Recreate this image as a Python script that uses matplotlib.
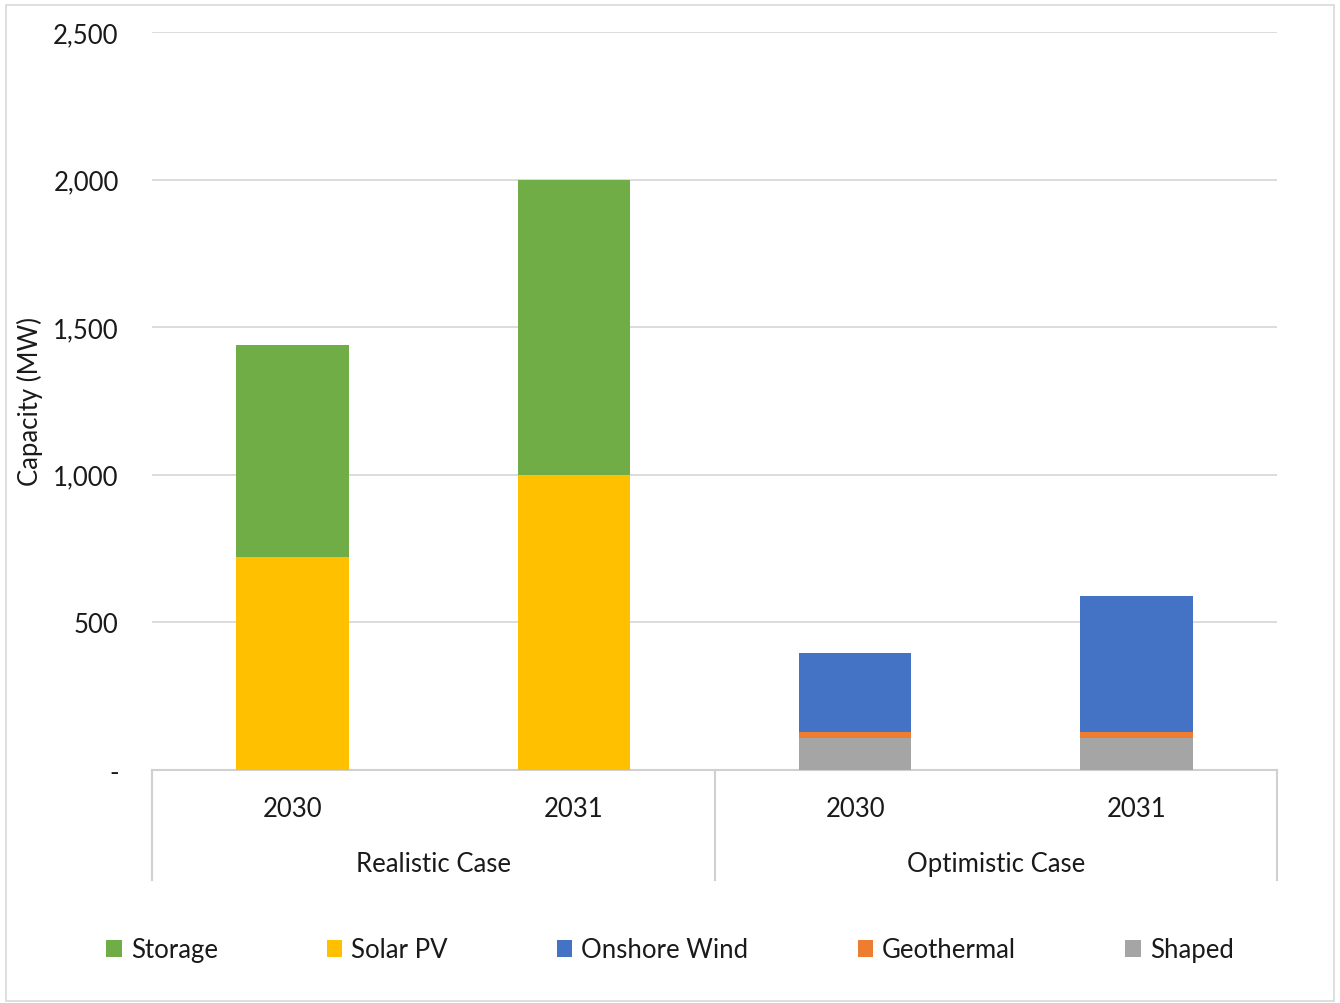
import matplotlib
matplotlib.use("Agg")
import matplotlib.pyplot as plt
from matplotlib.patches import Patch, Rectangle
from matplotlib.lines import Line2D

plt.rcParams['font.family'] = ['Lato', 'DejaVu Sans']

groups = ["Realistic Case", "Optimistic Case"]
years = ["2030", "2031", "2030", "2031"]
series = ["Storage", "Solar PV", "Onshore Wind", "Geothermal", "Shaped"]
storage = [720, 1000, 0, 0]
solar = [720, 1000, 0, 0]
wind = [0, 0, 265, 460]
geothermal = [0, 0, 20, 20]
shaped = [0, 0, 110, 110]
yticks = [0, 500, 1000, 1500, 2000, 2500]
ytick_labels = ["-", "500", "1,000", "1,500", "2,000", "2,500"]

colors = {"Storage": "#70ad47", "Solar PV": "#ffc000", "Onshore Wind": "#4472c4",
          "Geothermal": "#ed7d31", "Shaped": "#a5a5a5"}

FS = 18.5
TC = "#1a1a1a"

fig = plt.figure(figsize=(13.4, 10.04), dpi=100)
ax = fig.add_axes([152/1340, 1 - 771/1004, (1277-152)/1340, (771-33)/1004])

x = list(range(len(years)))
w = 0.4
bottom = [0]*4
stack_order = [("Shaped", shaped), ("Geothermal", geothermal), ("Onshore Wind", wind),
               ("Solar PV", solar), ("Storage", storage)]
for name, vals in stack_order:
    ax.bar(x, vals, w, bottom=bottom, color=colors[name], zorder=3)
    bottom = [b + v for b, v in zip(bottom, vals)]

ax.set_xlim(-0.5, 3.5)
ax.set_ylim(0, 2500)
ax.set_yticks(yticks)
ax.set_yticklabels(ytick_labels, fontsize=FS, color=TC)
ax.tick_params(axis='y', length=0, pad=24)
ax.set_xticks([])
ax.grid(axis='y', color="#d9d9d9", linewidth=1.3, zorder=0)
for s in ["top", "right", "left"]:
    ax.spines[s].set_visible(False)
ax.spines["bottom"].set_color("#d0d0d0")
ax.spines["bottom"].set_linewidth(1.5)
ax.set_ylabel("Capacity (MW)", fontsize=FS, color=TC)
ax.yaxis.set_label_coords(-0.097, 0.5)

# category axis
for i, yr in enumerate(years):
    ax.text(i, -0.0515, yr, transform=ax.get_xaxis_transform(), ha='center', va='center',
            fontsize=FS, color=TC)
for gi, g in enumerate(groups):
    ax.text(gi*2 + 0.5, -0.1265, g, transform=ax.get_xaxis_transform(), ha='center', va='center',
            fontsize=FS, color=TC)
for xv in [-0.5, 1.5, 3.5]:
    ax.add_line(Line2D([xv, xv], [0, -0.149], transform=ax.get_xaxis_transform(),
                       color="#d0d0d0", linewidth=1.5, clip_on=False))

# outer border
fig.add_artist(Rectangle((6/1340, 0.002), 1 - 12/1340, 1 - 8/1004, transform=fig.transFigure,
                         fill=False, edgecolor="#d9d9d9", linewidth=1.2))

handles = [Patch(facecolor=colors[s]) for s in series]
fig.legend(handles, series, loc='center', bbox_to_anchor=(0.5, 1 - 951/1004), ncol=5,
           frameon=False, fontsize=FS, handlelength=0.6, handleheight=0.6,
           handletextpad=0.35, columnspacing=4.25, labelcolor=TC)

fig.savefig("out.png", dpi=100)
